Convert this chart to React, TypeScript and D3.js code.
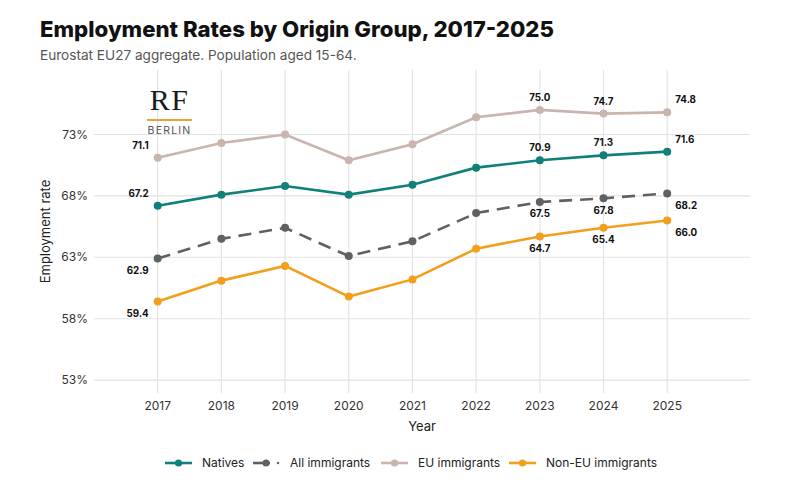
import React from "react";
import * as d3 from "d3";

const years = [2017, 2018, 2019, 2020, 2021, 2022, 2023, 2024, 2025];
const natives = [67.2, 68.1, 68.8, 68.1, 68.9, 70.3, 70.9, 71.3, 71.6];
const allImmigrants = [62.9, 64.5, 65.4, 63.1, 64.3, 66.6, 67.5, 67.8, 68.2];
const euImmigrants = [71.1, 72.3, 73.0, 70.9, 72.2, 74.4, 75.0, 74.7, 74.8];
const nonEuImmigrants = [59.4, 61.1, 62.3, 59.8, 61.2, 63.7, 64.7, 65.4, 66.0];
const yTicks = [53, 58, 63, 68, 73];
// years that get a value label
const labelYears = [2017, 2023, 2024, 2025];

const seriesNames = ["Natives", "All immigrants", "EU immigrants", "Non-EU immigrants"];
const seriesValues = [natives, allImmigrants, euImmigrants, nonEuImmigrants];
const seriesColors = ["#12807a", "#5e6262", "#c9b4b0", "#f29f1c"];
const labelAbove = [true, false, true, false];

const FONT = "Inter, 'Open Sans', sans-serif";

const App = () => {
  const width = 800;
  const height = 488;
  const plot = { left: 94, right: 750, top: 70, bottom: 393 };

  const x = d3.scaleLinear().domain([2016, 2026.3]).range([plot.left, plot.right]);
  const y = d3.scaleLinear().domain([51.95, 78.25]).range([plot.bottom, plot.top]);

  const line = d3
    .line<number>()
    .x((_, i) => x(years[i]))
    .y((d) => y(d));

  const legendX = [165, 253, 381, 509];

  return (
    <svg
      width={width}
      height={height}
      style={{ position: "absolute", left: 0, top: 0, background: "#fff" }}
      fontFamily={FONT}
    >
      {/* title */}
      <text x={40} y={37} fontSize={22.2} fontWeight={800} fill="#111">
        Employment Rates by Origin Group, 2017-2025
      </text>
      <text x={40} y={60} fontSize={13.6} fill="#555">
        Eurostat EU27 aggregate. Population aged 15-64.
      </text>

      {/* grid */}
      {yTicks.map((t) => (
        <g key={"y" + t}>
          <line x1={plot.left} x2={plot.right} y1={y(t)} y2={y(t)} stroke="#e2e2e2" strokeWidth={1.1} />
          <text x={88} y={y(t)} dy="0.35em" textAnchor="end" fontSize={12} fill="#333">
            {t}%
          </text>
        </g>
      ))}
      {years.map((yr) => (
        <g key={"x" + yr}>
          <line x1={x(yr)} x2={x(yr)} y1={plot.top} y2={plot.bottom} stroke="#e2e2e2" strokeWidth={1.1} />
          <text x={x(yr)} y={410} textAnchor="middle" fontSize={12} fill="#333">
            {yr}
          </text>
        </g>
      ))}

      {/* axis titles */}
      <text x={(plot.left + plot.right) / 2} y={431} textAnchor="middle" fontSize={13} fill="#222">
        Year
      </text>
      <text
        transform={`translate(50,${(plot.top + plot.bottom) / 2}) rotate(-90)`}
        textAnchor="middle"
        fontSize={13}
        fill="#222"
      >
        Employment rate
      </text>

      {/* logo */}
      <g>
        <text x={169.5} y={110} textAnchor="middle" fontSize={30} letterSpacing={1.5} fontFamily="'Liberation Serif', serif" fill="#1a1a1a">
          RF
        </text>
        <line x1={147} x2={192} y1={120} y2={120} stroke="#e9a33a" strokeWidth={2} />
        <text x={169.5} y={134} textAnchor="middle" fontSize={10.5} letterSpacing={1.2} fill="#555">
          BERLIN
        </text>
      </g>

      {/* series */}
      {seriesValues.map((vals, s) => (
        <g key={seriesNames[s]}>
          <path
            d={line(vals) || ""}
            fill="none"
            stroke={seriesColors[s]}
            strokeWidth={2.6}
            strokeDasharray={s === 1 ? "13,8" : undefined}
          />
          {vals.map((v, i) => (
            <circle key={i} cx={x(years[i])} cy={y(v)} r={4} fill={seriesColors[s]} />
          ))}
          {vals.map((v, i) => {
            const yr = years[i];
            if (!labelYears.includes(yr)) return null;
            const first = i === 0;
            const last = i === years.length - 1;
            const dx = first ? -9 : last ? 8 : 0;
            const anchor = first ? "end" : last ? "start" : "middle";
            const dy = labelAbove[s] ? -9 : 12;
            return (
              <text
                key={"l" + i}
                x={x(yr) + dx}
                y={y(v) + dy}
                dy={labelAbove[s] ? "0" : "0.35em"}
                textAnchor={anchor}
                fontSize={9.8}
                fontWeight={700}
                fill="#111"
              >
                {v.toFixed(1)}
              </text>
            );
          })}
        </g>
      ))}

      {/* legend */}
      {seriesNames.map((name, s) => {
        const lx = legendX[s];
        return (
          <g key={"lg" + s}>
            {s === 1 ? (
              <>
                <line x1={lx} x2={lx + 17} y1={463} y2={463} stroke={seriesColors[s]} strokeWidth={2.6} />
                <circle cx={lx + 13} cy={463} r={3.6} fill={seriesColors[s]} />
                <circle cx={lx + 25} cy={463} r={1.2} fill={seriesColors[s]} />
              </>
            ) : (
              <>
                <line x1={lx} x2={lx + 27} y1={463} y2={463} stroke={seriesColors[s]} strokeWidth={2.6} />
                <circle cx={lx + 13.5} cy={463} r={3.6} fill={seriesColors[s]} />
              </>
            )}
            <text x={lx + 37} y={463} dy="0.35em" fontSize={12} fill="#222">
              {name}
            </text>
          </g>
        );
      })}
    </svg>
  );
};

export default App;
